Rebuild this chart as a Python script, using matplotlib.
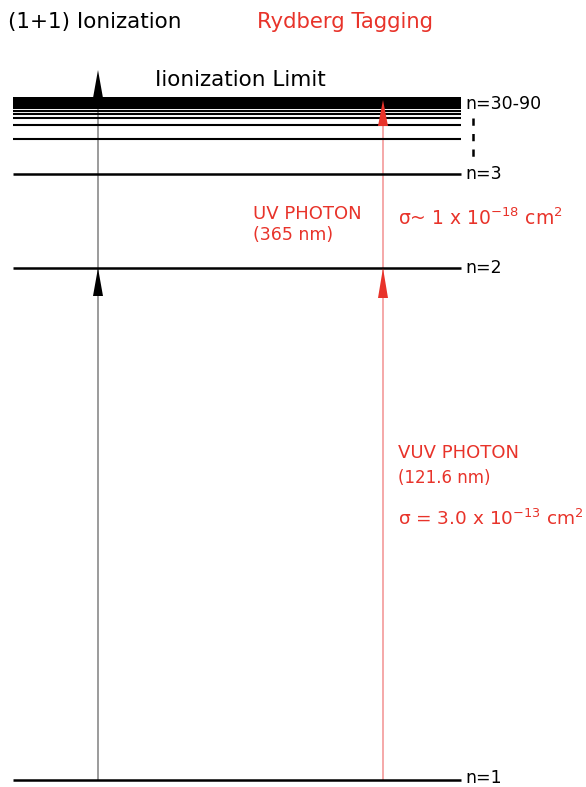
import matplotlib
matplotlib.use("Agg")
import matplotlib.pyplot as plt

plt.rcParams['font.family'] = ['DejaVu Sans']
plt.rcParams['mathtext.default'] = 'regular'

# Energy-level diagram (vertical position on the drawing, top = 0)
level_labels = ["n=1", "n=2", "n=3", "n=30-90"]
level_y = [780, 268, 174, 104]
# Intermediate Rydberg lines between n=3 and the ionization limit
rydberg_lines = [139, 124.5, 117.5, 114, 111]
limit_band = (96.5, 109)

# Transitions: (start level y, tip y)
ion_x = 98
ion_steps = [(780, 268), (268, 70)]
tag_x = 383
tag_steps = [(780, 268), (268, 100)]

RED = "#e8332a"
RED_LINE = "#f39a9a"

fig = plt.figure(figsize=(5.86, 7.87), dpi=100)
ax = fig.add_axes([0, 0, 1, 1])
ax.set_xlim(0, 586)
ax.set_ylim(787, 0)
ax.axis("off")

x0, x1 = 13, 461

# transition shafts
ax.plot([ion_x, ion_x], [ion_steps[0][0], ion_steps[-1][1] + 10], color="#8a8a8a", lw=1.2, zorder=1)
ax.plot([tag_x, tag_x], [tag_steps[0][0], tag_steps[0][1]], color=RED_LINE, lw=1.2, zorder=1)
ax.plot([tag_x, tag_x], [tag_steps[1][0], limit_band[1]], color=RED_LINE, lw=1.2, zorder=1)

# levels
ax.hlines(level_y[:3], x0, x1, color="black", lw=1.8, zorder=2)
ax.hlines(rydberg_lines, x0, x1, color="black", lw=1.5, zorder=2)
ax.fill_between([x0, x1], limit_band[0], limit_band[1], color="black", lw=0, zorder=2)

# arrow heads
def head(x, tip, color, length=30, z=4):
    ax.annotate("", xy=(x, tip), xytext=(x, tip + length),
                arrowprops=dict(arrowstyle="-|>,head_length=%g,head_width=%g" % (length * 0.72, 3.6),
                                color=color, lw=0, shrinkA=0, shrinkB=0, mutation_scale=1),
                zorder=z)

for s, t in ion_steps:
    head(ion_x, t, "black", length=28)
head(tag_x, tag_steps[0][1], RED, length=30)
head(tag_x, tag_steps[1][1], RED, length=26)

# dashed continuation between n=3 and the Rydberg series
ax.plot([473, 473], [118, 157], color="black", lw=1.8, ls=(0, (2.9, 3.3)))

# level labels
for lab, y in zip(level_labels[1:], level_y[1:]):
    ax.text(465, y, lab, fontsize=12.5, va="center", ha="left", color="black")
ax.text(465, 787, level_labels[0], fontsize=12.5, va="bottom", ha="left", color="black")

# headings
ax.text(8, 22, "(1+1) Ionization", fontsize=15.5, va="center", ha="left", color="black")
ax.text(257, 22, "Rydberg Tagging", fontsize=15.2, va="center", ha="left", color=RED)
ax.text(155, 80, "Iionization Limit", fontsize=15.5, va="center", ha="left", color="black")

# photon annotations
ax.text(253, 214, "UV PHOTON", fontsize=13, va="center", ha="left", color=RED)
ax.text(253, 235, "(365 nm)", fontsize=12.5, va="center", ha="left", color=RED)
ax.text(398, 218, "σ~ 1 x 10$^{-18}$ cm$^{2}$", fontsize=13.5, va="center", ha="left", color=RED)

ax.text(398, 453, "VUV PHOTON", fontsize=13, va="center", ha="left", color=RED)
ax.text(398, 478, "(121.6 nm)", fontsize=12, va="center", ha="left", color=RED)
ax.text(398, 519, "σ = 3.0 x 10$^{-13}$ cm$^{2}$", fontsize=13.3, va="center", ha="left", color=RED)

fig.savefig("out.png", dpi=100)
